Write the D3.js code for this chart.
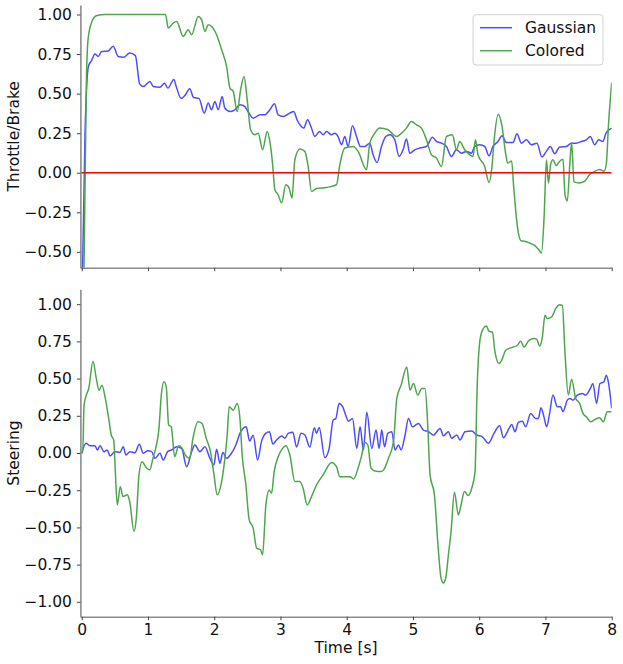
<!DOCTYPE html>
<html>
<head>
<meta charset="utf-8">
<script src="https://cdn.jsdelivr.net/npm/d3@7"></script>
<style>
  body { margin: 0; background: #fff; }
  text { font-family: "DejaVu Sans", sans-serif; }
</style>
</head>
<body>
<script>
// throttle / brake, [time s, value]
const throttleGaussian = [[0,-0.9],[0.05,0.25],[0.1,0.67],[0.15,0.71],[0.2,0.75],[0.25,0.735],[0.3,0.766],[0.4,0.77],[0.475,0.8],[0.55,0.735],[0.63,0.73],[0.725,0.756],[0.81,0.74],[0.875,0.56],[0.93,0.545],[1.03,0.577],[1.08,0.545],[1.18,0.54],[1.25,0.565],[1.3,0.535],[1.39,0.59],[1.43,0.54],[1.5,0.47],[1.56,0.49],[1.63,0.53],[1.69,0.475],[1.77,0.47],[1.85,0.377],[1.91,0.44],[1.96,0.398],[2.01,0.45],[2.06,0.398],[2.12,0.482],[2.16,0.409],[2.24,0.387],[2.31,0.398],[2.39,0.43],[2.46,0.419],[2.51,0.387],[2.59,0.345],[2.69,0.366],[2.76,0.366],[2.84,0.398],[2.91,0.436],[2.965,0.366],[3.04,0.356],[3.14,0.377],[3.2,0.387],[3.25,0.335],[3.3,0.3],[3.35,0.282],[3.41,0.335],[3.46,0.292],[3.52,0.229],[3.59,0.261],[3.644,0.24],[3.695,0.261],[3.771,0.24],[3.821,0.25],[3.87,0.229],[3.922,0.177],[3.971,0.229],[4.021,0.166],[4.087,0.297],[4.148,0.229],[4.208,0.166],[4.273,0.166],[4.348,0.187],[4.398,0.114],[4.459,0.065],[4.525,0.166],[4.59,0.229],[4.65,0.24],[4.726,0.208],[4.79,0.103],[4.851,0.145],[4.902,0.213],[4.952,0.124],[5.027,0.145],[5.103,0.156],[5.204,0.166],[5.294,0.225],[5.354,0.198],[5.43,0.187],[5.505,0.166],[5.581,0.103],[5.656,0.145],[5.732,0.124],[5.807,0.135],[5.882,0.124],[5.932,0.166],[6.008,0.177],[6.083,0.166],[6.148,0.107],[6.208,0.166],[6.284,0.198],[6.344,0.234],[6.41,0.191],[6.51,0.191],[6.57,0.246],[6.637,0.187],[6.712,0.208],[6.787,0.177],[6.872,0.187],[6.947,0.099],[7.014,0.135],[7.074,0.166],[7.139,0.12],[7.214,0.162],[7.315,0.166],[7.391,0.187],[7.466,0.187],[7.541,0.198],[7.617,0.208],[7.677,0.229],[7.742,0.177],[7.802,0.208],[7.867,0.198],[7.914,0.25],[8,0.282]];

const throttleColored = [[0,-1.1],[0.035,-0.59],[0.07,0.567],[0.095,0.84],[0.145,0.946],[0.22,0.992],[0.35,1.0],[1.265,1.0],[1.306,0.914],[1.382,0.946],[1.433,0.956],[1.532,0.861],[1.608,0.903],[1.659,0.872],[1.759,0.987],[1.81,0.966],[1.86,0.893],[1.91,0.935],[2.036,0.872],[2.112,0.777],[2.187,0.671],[2.237,0.535],[2.287,0.514],[2.347,0.387],[2.398,0.524],[2.45,0.608],[2.498,0.461],[2.549,0.272],[2.614,0.24],[2.664,0.25],[2.73,0.145],[2.8,0.261],[2.84,0.198],[2.88,0.061],[2.915,-0.107],[2.965,-0.139],[3.017,-0.19],[3.081,-0.076],[3.131,-0.097],[3.175,-0.16],[3.217,0.082],[3.293,0.15],[3.368,0.135],[3.418,0.04],[3.469,-0.118],[3.545,-0.1],[3.695,-0.093],[3.846,-0.076],[3.896,0.05],[3.971,0.156],[4.097,0.166],[4.172,0.135],[4.299,0.019],[4.348,0.187],[4.424,0.25],[4.499,0.282],[4.624,0.272],[4.751,0.229],[4.827,0.25],[4.902,0.282],[4.977,0.324],[5.053,0.303],[5.128,0.282],[5.204,0.208],[5.279,0.114],[5.354,0.093],[5.43,0.04],[5.505,0.229],[5.596,0.24],[5.656,0.145],[5.706,0.198],[5.781,0.145],[5.857,0.114],[5.906,0.103],[5.943,0.208],[5.982,0.114],[6.083,0.04],[6.148,-0.061],[6.193,0.04],[6.226,0.208],[6.287,0.37],[6.342,0.3],[6.4,0.12],[6.43,0.061],[6.49,0.075],[6.52,-0.087],[6.58,-0.35],[6.63,-0.43],[6.7,-0.434],[6.76,-0.444],[6.84,-0.46],[6.9,-0.486],[6.94,-0.507],[6.98,-0.276],[7.015,0.082],[7.045,-0.065],[7.079,0.055],[7.113,0.082],[7.165,0.045],[7.205,0.068],[7.265,0.085],[7.295,-0.14],[7.33,-0.178],[7.37,0.07],[7.395,0.19],[7.43,-0.058],[7.51,-0.065],[7.59,-0.055],[7.67,-0.01],[7.74,0.008],[7.82,0.02],[7.885,0.01],[7.92,0.06],[7.95,0.292],[8,0.57]];

// steering, [time s, value]
const steeringGaussian = [[0,0.0],[0.065,0.065],[0.125,0.049],[0.2,0.049],[0.235,0.02],[0.276,0.049],[0.336,0.009],[0.386,0.02],[0.427,-0.02],[0.502,0.009],[0.578,0.004],[0.627,0.042],[0.668,-0.013],[0.729,0.009],[0.804,0.002],[0.869,0.058],[0.929,-0.002],[0.995,0.015],[1.056,0.009],[1.106,-0.036],[1.181,-0.002],[1.231,-0.047],[1.297,0.009],[1.357,0.02],[1.433,0.042],[1.508,0.031],[1.584,-0.092],[1.659,0.009],[1.709,0.054],[1.784,0.009],[1.86,0.042],[1.935,-0.036],[1.995,-0.08],[2.036,0.025],[2.086,-0.069],[2.131,0.005],[2.187,-0.036],[2.25,-0.008],[2.327,0.054],[2.388,0.132],[2.483,0.176],[2.534,0.08],[2.588,0.12],[2.655,-0.047],[2.715,0.08],[2.777,0.132],[2.834,0.143],[2.885,0.06],[2.941,0.087],[3.017,0.115],[3.066,0.099],[3.116,0.132],[3.187,0.14],[3.243,0.04],[3.311,0.132],[3.368,0.121],[3.443,0.04],[3.511,0.17],[3.545,0.132],[3.584,0.172],[3.67,-0.031],[3.735,0.031],[3.795,0.221],[3.836,0.232],[3.885,0.333],[3.94,0.31],[3.976,0.266],[4.027,0.214],[4.087,0.232],[4.152,0.031],[4.202,0.176],[4.253,0.02],[4.303,0.273],[4.379,0.031],[4.443,0.154],[4.489,0.031],[4.529,0.154],[4.57,0.042],[4.62,0.132],[4.68,0.143],[4.73,0.02],[4.781,0.054],[4.821,0.02],[4.881,0.121],[4.932,0.232],[4.992,0.176],[5.083,0.199],[5.158,0.154],[5.234,0.143],[5.309,0.121],[5.409,0.165],[5.46,0.116],[5.535,0.143],[5.585,0.099],[5.661,0.121],[5.71,0.087],[5.786,0.143],[5.887,0.147],[5.962,0.121],[6.048,0.109],[6.139,0.065],[6.223,0.132],[6.309,0.183],[6.365,0.103],[6.45,0.165],[6.49,0.192],[6.54,0.143],[6.591,0.206],[6.652,0.214],[6.701,0.176],[6.777,0.266],[6.852,0.232],[6.893,0.232],[6.932,0.304],[6.977,0.243],[7.018,0.176],[7.063,0.266],[7.113,0.389],[7.18,0.31],[7.229,0.31],[7.264,0.277],[7.33,0.355],[7.37,0.367],[7.415,0.355],[7.481,0.389],[7.557,0.4],[7.606,0.389],[7.682,0.438],[7.716,0.467],[7.772,0.333],[7.822,0.467],[7.882,0.478],[7.919,0.523],[7.949,0.478],[8,0.3]];

const steeringColored = [[0,0.0],[0.015,0.0],[0.035,0.322],[0.069,0.389],[0.106,0.434],[0.17,0.617],[0.22,0.501],[0.261,0.422],[0.306,0.456],[0.356,0.367],[0.407,0.232],[0.446,0.121],[0.483,0.087],[0.507,-0.125],[0.537,-0.349],[0.582,-0.226],[0.623,-0.293],[0.688,-0.281],[0.724,-0.326],[0.789,-0.527],[0.824,-0.438],[0.864,-0.147],[0.91,-0.058],[0.974,-0.098],[1.026,-0.114],[1.075,-0.036],[1.116,0.031],[1.166,0.165],[1.201,0.389],[1.241,0.478],[1.276,0.444],[1.312,0.188],[1.351,0.176],[1.403,-0.025],[1.463,0.049],[1.517,0.031],[1.563,-0.013],[1.629,-0.036],[1.679,0.099],[1.754,0.21],[1.815,0.199],[1.879,0.099],[1.943,0.009],[1.995,-0.14],[2.045,-0.281],[2.112,-0.192],[2.161,-0.036],[2.196,0.121],[2.226,0.31],[2.287,0.288],[2.347,0.333],[2.388,0.232],[2.422,-0.013],[2.478,-0.214],[2.528,-0.449],[2.588,-0.505],[2.64,-0.639],[2.7,-0.65],[2.73,-0.684],[2.78,-0.349],[2.83,-0.248],[2.866,-0.27],[2.905,-0.125],[2.965,-0.025],[3.032,0.031],[3.081,0.049],[3.142,-0.013],[3.217,-0.192],[3.293,-0.192],[3.342,-0.237],[3.403,-0.349],[3.469,-0.293],[3.545,-0.214],[3.644,-0.147],[3.771,-0.063],[3.846,-0.092],[3.896,-0.159],[4.051,-0.159],[4.103,-0.174],[4.178,-0.092],[4.228,-0.013],[4.268,0.072],[4.318,0.054],[4.368,-0.103],[4.428,-0.121],[4.519,-0.125],[4.555,-0.115],[4.63,-0.036],[4.706,0.076],[4.756,0.367],[4.821,0.456],[4.906,0.578],[4.956,0.422],[5.008,0.467],[5.072,0.389],[5.133,0.434],[5.183,0.434],[5.223,0.188],[5.258,-0.147],[5.324,-0.281],[5.374,-0.595],[5.424,-0.84],[5.46,-0.873],[5.495,-0.84],[5.535,-0.684],[5.575,-0.527],[5.626,-0.264],[5.686,-0.416],[5.726,-0.349],[5.777,-0.259],[5.837,-0.286],[5.887,-0.237],[5.937,-0.125],[5.97,0.456],[6.008,0.746],[6.048,0.824],[6.109,0.853],[6.148,0.818],[6.199,0.813],[6.238,0.679],[6.299,0.601],[6.339,0.623],[6.4,0.69],[6.45,0.702],[6.51,0.712],[6.576,0.724],[6.626,0.751],[6.676,0.712],[6.751,0.757],[6.827,0.769],[6.867,0.765],[6.913,0.719],[6.953,0.779],[6.993,0.925],[7.029,0.903],[7.094,0.914],[7.154,0.97],[7.214,0.997],[7.255,0.992],[7.294,0.679],[7.345,0.389],[7.395,0.496],[7.456,0.367],[7.516,0.333],[7.566,0.266],[7.617,0.243],[7.682,0.21],[7.757,0.228],[7.818,0.237],[7.873,0.21],[7.934,0.277],[8,0.277]];

const xTicks = d3.range(0, 9, 1);
const throttleTicks = [-0.5, -0.25, 0, 0.25, 0.5, 0.75, 1.0];
const steeringTicks = [-1.0, -0.75, -0.5, -0.25, 0, 0.25, 0.5, 0.75, 1.0];
const seriesNames = ["Gaussian", "Colored"];
const seriesColors = ["rgb(77,77,255)", "rgb(77,166,77)"];

const W = 623, H = 664;
const left = 80.4, right = 611.7;
const fontSize = "15.5px";

const svg = d3.select(document.body).append("svg")
  .attr("width", W).attr("height", H);

const x = d3.scaleLinear().domain([-0.02, 8]).range([left, right]);

const panels = [
  { label: "Throttle/Brake", top: 5, bottom: 267.7, domain: [-0.6, 1.06], ticks: throttleTicks,
    series: [throttleGaussian, throttleColored], zero: true, xLabels: false },
  { label: "Steering", top: 289.3, bottom: 616.7, domain: [-1.1, 1.1], ticks: steeringTicks,
    series: [steeringGaussian, steeringColored], zero: false, xLabels: true }
];

const fmt = d3.format(".2f");

panels.forEach((p, i) => {
  const y = d3.scaleLinear().domain(p.domain).range([p.bottom, p.top]);

  svg.append("clipPath").attr("id", "clip" + i)
    .append("rect")
    .attr("x", left).attr("y", p.top)
    .attr("width", right - left).attr("height", p.bottom - p.top);

  const g = svg.append("g").attr("clip-path", `url(#clip${i})`);
  const line = d3.line()
    .x(d => x(d[0])).y(d => y(d[1]))
    .curve(d3.curveMonotoneX);

  p.series.forEach((s, k) => {
    g.append("path")
      .datum(s)
      .attr("d", line)
      .attr("fill", "none")
      .attr("stroke", seriesColors[k])
      .attr("stroke-width", 1.5)
      .attr("stroke-linejoin", "round");
  });

  if (p.zero) {
    g.append("line")
      .attr("x1", left).attr("x2", right)
      .attr("y1", y(0)).attr("y2", y(0))
      .attr("stroke", "#ff0000").attr("stroke-width", 1.5);
  }

  const yAxis = d3.axisLeft(y).tickValues(p.ticks).tickFormat(fmt)
    .tickSize(3.5).tickSizeOuter(0).tickPadding(5);
  const ya = svg.append("g").attr("transform", `translate(${left},0)`).call(yAxis);

  const xAxis = d3.axisBottom(x).tickValues(xTicks)
    .tickFormat(p.xLabels ? d3.format("d") : () => "")
    .tickSize(3.5).tickSizeOuter(0).tickPadding(4);
  const xa = svg.append("g").attr("transform", `translate(0,${p.bottom})`).call(xAxis);

  [ya, xa].forEach(a => {
    a.select(".domain").attr("stroke", "#8c8c8c").attr("stroke-width", 1.6);
    a.selectAll(".tick line").attr("stroke", "#444").attr("stroke-width", 1);
    a.selectAll(".tick text").attr("fill", "#111")
      .style("font-size", fontSize).style("font-family", "DejaVu Sans");
  });

  svg.append("text")
    .attr("transform", `translate(14,${(p.top + p.bottom) / 2}) rotate(-90)`)
    .attr("text-anchor", "middle")
    .attr("dominant-baseline", "central")
    .style("font-size", fontSize)
    .attr("fill", "#111")
    .text(p.label);
});

svg.append("text")
  .attr("x", (left + right) / 2).attr("y", 648)
  .attr("text-anchor", "middle")
  .attr("dominant-baseline", "central")
  .style("font-size", fontSize)
  .attr("fill", "#111")
  .text("Time [s]");

// legend
const lg = svg.append("g");
lg.append("rect")
  .attr("x", 473).attr("y", 14.7).attr("width", 130).attr("height", 50.3)
  .attr("rx", 3).attr("fill", "#fff").attr("fill-opacity", 0.8)
  .attr("stroke", "#d0d0d0").attr("stroke-width", 1);
seriesNames.forEach((n, k) => {
  const yy = 27.7 + k * 23;
  lg.append("line").attr("x1", 480).attr("x2", 512).attr("y1", yy).attr("y2", yy)
    .attr("stroke", seriesColors[k]).attr("stroke-width", 1.5);
  lg.append("text").attr("x", 525).attr("y", yy)
    .attr("dominant-baseline", "central")
    .style("font-size", fontSize).attr("fill", "#111")
    .text(n);
});
</script>
</body>
</html>
